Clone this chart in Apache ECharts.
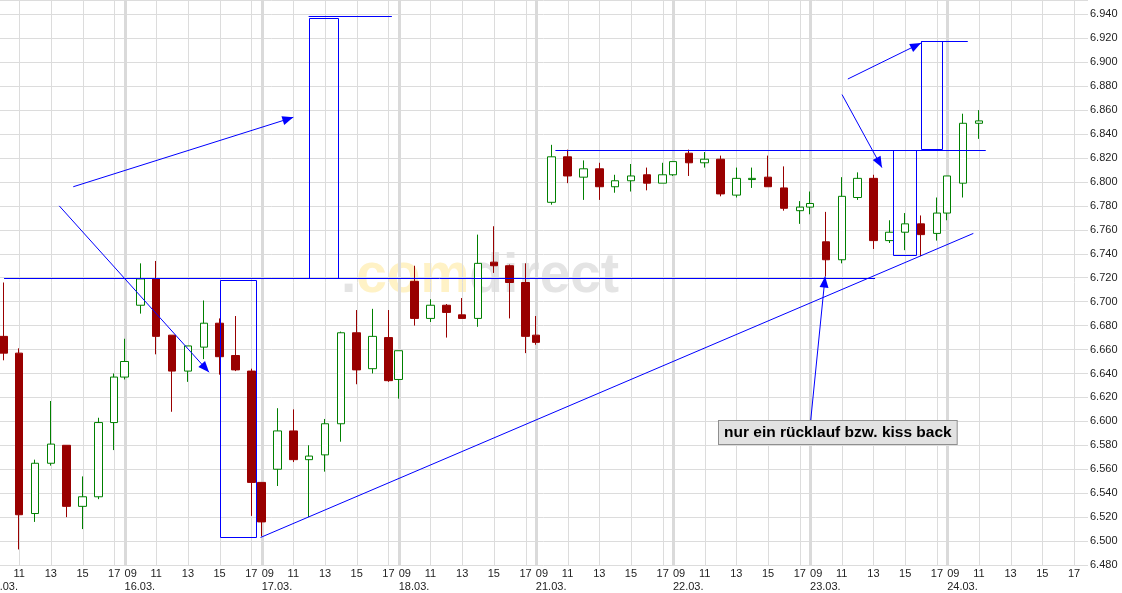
<!DOCTYPE html>
<html><head><meta charset="utf-8">
<script src="https://cdn.jsdelivr.net/npm/echarts@6/dist/echarts.min.js"></script>
<style>html,body{margin:0;padding:0;background:#fff}#c{width:1122px;height:593px}</style>
</head><body><div id="c"></div>
<script>
// ---- categories / axis ----
const days = ['15.03.','16.03.','17.03.','18.03.','21.03.','22.03.','23.03.','24.03.'];
const sessionOpen = '09:00';
const sessionClose = '17:39';
const hourTicks = ['11:00','13:00','15:00','17:00'];
const axisEnd = '24.03. 17:53';
const priceMin = 6480, priceMax = 6952, priceStep = 20;

// ---- hourly candles ----
const barTimes = [
 '15.03. 10:00','15.03. 11:00','15.03. 12:00','15.03. 13:00','15.03. 14:00','15.03. 15:00','15.03. 16:00','15.03. 17:00','15.03. 17:39',
 '16.03. 10:00','16.03. 11:00','16.03. 12:00','16.03. 13:00','16.03. 14:00','16.03. 15:00','16.03. 16:00','16.03. 17:00','16.03. 17:39',
 '17.03. 10:00','17.03. 11:00','17.03. 12:00','17.03. 13:00','17.03. 14:00','17.03. 15:00','17.03. 16:00','17.03. 17:00','17.03. 17:39',
 '18.03. 10:00','18.03. 11:00','18.03. 12:00','18.03. 13:00','18.03. 14:00','18.03. 15:00','18.03. 16:00','18.03. 17:00','18.03. 17:39',
 '21.03. 10:00','21.03. 11:00','21.03. 12:00','21.03. 13:00','21.03. 14:00','21.03. 15:00','21.03. 16:00','21.03. 17:00','21.03. 17:39',
 '22.03. 10:00','22.03. 11:00','22.03. 12:00','22.03. 13:00','22.03. 14:00','22.03. 15:00','22.03. 16:00','22.03. 17:00','22.03. 17:39',
 '23.03. 10:00','23.03. 11:00','23.03. 12:00','23.03. 13:00','23.03. 14:00','23.03. 15:00','23.03. 16:00','23.03. 17:00','23.03. 17:39',
 '24.03. 10:00','24.03. 11:00'
];
const opens = [
 6671,6657,6523,6565,6580,6529,6537,6599,6637,
 6697,6719,6672,6642,6662,6682,6655,6642,6549,
 6560,6592,6568,6572,6598,6674,6644,6670,6635,
 6717,6686,6697,6689,6686,6733,6730,6716,6672,
 6783,6821,6804,6811,6796,6801,6806,6799,6806,
 6824,6816,6819,6789,6802,6804,6795,6776,6779,
 6750,6735,6787,6803,6751,6758,6765,6757,6774,
 6799,6849
];
const closes = [
 6657,6522,6565,6581,6529,6537,6599,6637,6650,
 6719,6671,6642,6663,6682,6654,6643,6549,6516,
 6592,6568,6571,6598,6674,6643,6671,6634,6659,
 6686,6697,6691,6686,6732,6730,6716,6671,6666,
 6821,6805,6811,6796,6801,6805,6799,6806,6817,
 6816,6819,6790,6803,6803,6796,6778,6779,6782,
 6735,6788,6803,6751,6758,6765,6756,6774,6805,
 6849,6851
];
const lows = [
 6651,6493,6516,6563,6520,6510,6535,6576,6635,
 6690,6656,6608,6633,6652,6639,6642,6521,6504,
 6546,6566,6520,6558,6583,6631,6640,6633,6619,
 6680,6683,6670,6686,6679,6724,6686,6657,6664,
 6781,6799,6785,6785,6791,6792,6793,6799,6805,
 6805,6812,6788,6787,6795,6796,6776,6765,6773,
 6721,6732,6785,6744,6749,6743,6738,6751,6768,
 6787,6836
];
const highs = [
 6716,6661,6568,6617,6580,6554,6603,6640,6669,
 6732,6734,6672,6663,6701,6686,6688,6644,6549,
 6611,6610,6580,6602,6675,6693,6694,6693,6659,
 6730,6702,6698,6703,6756,6763,6731,6732,6688,
 6831,6827,6818,6816,6806,6815,6812,6816,6817,
 6827,6825,6822,6812,6812,6822,6813,6784,6792,
 6775,6804,6808,6806,6768,6774,6772,6787,6805,
 6857,6860
];

// ---- drawn annotations (time stamps and prices) ----
const hLines = [
 ['15.03. 10:03','23.03. 13:06',6720],
 ['21.03. 10:14','24.03. 11:26',6827],
 ['17.03. 11:58','17.03. 17:13',6939],
 ['23.03. 16:01','24.03. 10:18',6918]
];
const trendLines = [['16.03. 17:35',6503,'24.03. 10:39',6757]];
const boxes = [
 ['16.03. 15:02','16.03. 17:19',6503,6718],
 ['17.03. 11:58','17.03. 13:47',6720,6937],
 ['23.03. 14:15','23.03. 15:43',6739,6827],
 ['23.03. 16:01','23.03. 17:20',6828,6918]
];
const arrows = [
 ['15.03. 14:25',6796,'17.03. 11:00',6854],
 ['15.03. 13:32',6780,'16.03. 14:20',6641],
 ['23.03. 11:23',6886,'23.03. 16:00',6916],
 ['23.03. 11:01',6873,'23.03. 13:32',6812],
 ['23.03. 09:02',6600,'23.03. 09:57',6721]
];
const noteAnchor = ['22.03. 11:56',6600];
const noteText = 'nur ein rücklauf bzw. kiss back';

// ---- helpers ----
function hm(s){const p=s.split(':').map(Number);return p[0]+p[1]/60;}
const L = hm(sessionClose)-hm(sessionOpen);
function tx(stamp){const p=stamp.split(' ');return days.indexOf(p[0])*L+hm(p[1])-hm(sessionOpen);}
const xMax = tx(axisEnd);
const hourValues = [], dayValues = [];
days.forEach(d=>{dayValues.push(tx(d+' '+sessionOpen));hourTicks.forEach(h=>hourValues.push(tx(d+' '+h)));});
const candleData = barTimes.map((t,i)=>[tx(t),opens[i],closes[i],lows[i],highs[i]]);
const FONT = '"Liberation Sans", Arial, sans-serif';
const GRID = '#dcdcdc';
const crisp = v => Math.round(v)+0.5;
const pad2 = n => (n<10?'0':'')+n;

function renderGrid(params, api){
  const cs = params.coordSys; const kids=[];
  hourValues.forEach(v=>{const x=crisp(api.coord([v,priceMin])[0]);
    kids.push({type:'line',shape:{x1:x,y1:cs.y,x2:x,y2:cs.y+cs.height},style:{stroke:GRID,lineWidth:1}});});
  dayValues.forEach(v=>{const x=crisp(api.coord([v,priceMin])[0]);
    kids.push({type:'line',shape:{x1:x,y1:cs.y,x2:x,y2:cs.y+cs.height},style:{stroke:'#dadada',lineWidth:3}});});
  return {type:'group',children:kids};
}
function renderNotes(params, api){
  const P=(t,v)=>api.coord([tx(t),v]); const blue='#0000ff'; const kids=[];
  hLines.forEach(([t1,t2,v])=>{const a=P(t1,v),b=P(t2,v),y=crisp(a[1]);
    kids.push({type:'line',shape:{x1:a[0],y1:y,x2:b[0],y2:y},style:{stroke:blue,lineWidth:1}});});
  boxes.forEach(([t1,t2,v1,v2])=>{const a=P(t1,v2),b=P(t2,v1);
    kids.push({type:'rect',shape:{x:crisp(a[0]),y:crisp(a[1]),width:Math.round(b[0]-a[0]),height:Math.round(b[1]-a[1])},style:{stroke:blue,fill:'none',lineWidth:1}});});
  trendLines.forEach(([t1,v1,t2,v2])=>{const a=P(t1,v1),b=P(t2,v2);
    kids.push({type:'line',shape:{x1:a[0],y1:a[1],x2:b[0],y2:b[1]},style:{stroke:blue,lineWidth:1}});});
  arrows.forEach(([t1,v1,t2,v2])=>{const a=P(t1,v1),b=P(t2,v2);
    const dx=b[0]-a[0],dy=b[1]-a[1],len=Math.hypot(dx,dy),ux=dx/len,uy=dy/len,hl=11,hw=4.5;
    kids.push({type:'line',shape:{x1:a[0],y1:a[1],x2:b[0],y2:b[1]},style:{stroke:blue,lineWidth:1}});
    kids.push({type:'polygon',shape:{points:[[b[0],b[1]],[b[0]-ux*hl-uy*hw,b[1]-uy*hl+ux*hw],[b[0]-ux*hl+uy*hw,b[1]-uy*hl-ux*hw]]},style:{fill:blue}});});
  const n=P(noteAnchor[0],noteAnchor[1]);
  kids.push({type:'text',x:Math.round(n[0]),y:Math.round(n[1]),style:{text:noteText,font:'bold 15.5px '+FONT,fill:'#000',
    backgroundColor:'#e2e2e2',borderColor:'#8f8f8f',borderWidth:1,padding:[4,5,3,5],align:'left',verticalAlign:'top'}});
  return {type:'group',children:kids};
}

const chart = echarts.init(document.getElementById('c'), null, {renderer:'canvas'});
const xCommon = {type:'value',min:0,max:xMax,position:'bottom',offset:0,
  axisLine:{show:false},axisTick:{show:false},splitLine:{show:false}};
chart.setOption({
  animation:false,
  backgroundColor:'#ffffff',
  grid:{left:-12.6,right:34,top:0,bottom:28,containLabel:false,outerBoundsMode:'none'},
  graphic:{elements:[{type:'text',x:341,y:249,z:-10,silent:true,style:{
    text:'{g|.}{y|com}{g|direct}',font:'bold 55px '+FONT,
    rich:{g:{fill:'#e4e4e4',font:'bold 55px '+FONT},y:{fill:'#fff2c6',font:'bold 55px '+FONT}}}}]},
  xAxis:[
    Object.assign({},xCommon,{axisLabel:{customValues:hourValues,margin:2,fontSize:11,lineHeight:13,color:'#222',fontFamily:FONT,
      showMinLabel:true,showMaxLabel:true,hideOverlap:false,
      formatter:v=>{const d=Math.floor(v/L+1e-6);return pad2(Math.round(hm(sessionOpen)+v-d*L));}}}),
    Object.assign({},xCommon,{axisLabel:{customValues:dayValues,margin:2,fontSize:11,lineHeight:13,color:'#222',fontFamily:FONT,
      align:'left',showMinLabel:true,showMaxLabel:true,hideOverlap:false,
      formatter:v=>sessionOpen.slice(0,2)+'\n'+days[Math.round(v/L)]}})
  ],
  yAxis:{type:'value',position:'right',min:priceMin,max:priceMax,interval:priceStep,
    axisLine:{show:true,lineStyle:{color:'#d4d4d4'}},axisTick:{show:false},
    splitLine:{show:true,lineStyle:{color:GRID,width:1}},
    axisLabel:{margin:2,fontSize:11,color:'#222',fontFamily:FONT,showMaxLabel:false,showMinLabel:true,
      formatter:v=>(v%priceStep)?'':Math.floor(v/1000)+'.'+String(v%1000).padStart(3,'0')}},
  series:[
    {type:'custom',name:'grid',xAxisIndex:0,yAxisIndex:0,renderItem:renderGrid,data:[[0,priceMin]],z:1,silent:true,clip:false},
    {type:'candlestick',name:'DAX',xAxisIndex:0,yAxisIndex:0,data:candleData,barWidth:8,z:2,silent:true,
      itemStyle:{color:'#ffffff',color0:'#990000',borderColor:'#008000',borderColor0:'#990000',borderWidth:1}},
    {type:'custom',name:'notes',xAxisIndex:0,yAxisIndex:0,renderItem:renderNotes,data:[[0,priceMin]],z:3,silent:true,clip:false}
  ]
});
</script></body></html>
